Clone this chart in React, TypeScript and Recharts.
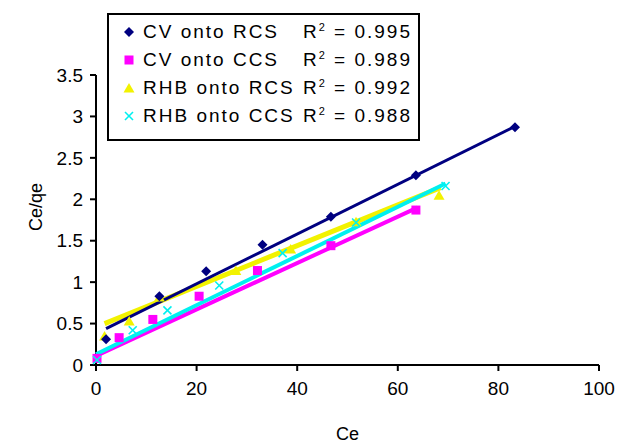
import React from 'react';
import { ScatterChart, Scatter, XAxis, YAxis } from 'recharts';

const xTicks = [0, 20, 40, 60, 80, 100];
const yTicks = [0, 0.5, 1, 1.5, 2, 2.5, 3, 3.5];

const seriesNames = ['CV onto RCS', 'CV onto CCS', 'RHB onto RCS', 'RHB onto CCS'];
const r2Values = ['0.995', '0.989', '0.992', '0.988'];
const seriesColors = ['#000080', '#FF00FF', '#F2F200', '#00F0F0'];

const cvRcs = [
  { x: 2.0, y: 0.31 }, { x: 12.6, y: 0.83 }, { x: 21.9, y: 1.13 }, { x: 33.1, y: 1.45 },
  { x: 46.7, y: 1.79 }, { x: 63.6, y: 2.29 }, { x: 83.3, y: 2.87 },
];
const cvCcs = [
  { x: 0.2, y: 0.08 }, { x: 4.6, y: 0.33 }, { x: 11.3, y: 0.55 }, { x: 20.5, y: 0.83 },
  { x: 32.1, y: 1.14 }, { x: 46.7, y: 1.44 }, { x: 63.6, y: 1.87 },
];
const rhbRcs = [
  { x: 1.7, y: 0.35 }, { x: 6.6, y: 0.53 }, { x: 12.6, y: 0.82 }, { x: 27.8, y: 1.14 },
  { x: 38.7, y: 1.4 }, { x: 51.7, y: 1.73 }, { x: 68.2, y: 2.05 },
];
const rhbCcs = [
  { x: 0.2, y: 0.06 }, { x: 7.3, y: 0.42 }, { x: 14.2, y: 0.66 }, { x: 24.5, y: 0.96 },
  { x: 37.1, y: 1.35 }, { x: 51.7, y: 1.72 }, { x: 69.5, y: 2.16 },
];

const trendCvRcs = [{ x: 2.0, y: 0.44 }, { x: 83.3, y: 2.88 }];
const trendCvCcs = [{ x: 0.0, y: 0.11 }, { x: 63.9, y: 1.9 }];
const trendRhbRcs = [{ x: 1.7, y: 0.5 }, { x: 68.5, y: 2.14 }];
const trendRhbCcs = [{ x: 0.0, y: 0.13 }, { x: 69.5, y: 2.19 }];

const FONT = '"Liberation Sans", Arial, sans-serif';

const Diamond = (p: any) => {
  const { cx, cy } = p;
  const s = 5;
  return <polygon points={`${cx},${cy - s} ${cx + s},${cy} ${cx},${cy + s} ${cx - s},${cy}`} fill={seriesColors[0]} />;
};
const Square = (p: any) => {
  const { cx, cy } = p;
  return <rect x={cx - 4.5} y={cy - 4.5} width={9} height={9} fill={seriesColors[1]} />;
};
const Triangle = (p: any) => {
  const { cx, cy } = p;
  return <polygon points={`${cx},${cy - 5} ${cx + 5.5},${cy + 4.5} ${cx - 5.5},${cy + 4.5}`} fill={seriesColors[2]} />;
};
const Cross = (p: any) => {
  const { cx, cy } = p;
  const s = 4;
  return (
    <g stroke={seriesColors[3]} strokeWidth={1.6}>
      <line x1={cx - s} y1={cy - s} x2={cx + s} y2={cy + s} />
      <line x1={cx - s} y1={cy + s} x2={cx + s} y2={cy - s} />
    </g>
  );
};
const NoShape = () => <g />;

const markers = [Diamond, Square, Triangle, Cross];

const LegendMarker = ({ i }: { i: number }) => {
  const M = markers[i];
  return (
    <svg width={14} height={14} style={{ position: 'absolute', left: 13, top: -7 }}>
      <M cx={7} cy={7} />
    </svg>
  );
};

export default function App() {
  return (
    <div style={{ position: 'absolute', left: 0, top: 0, width: 621, height: 443, background: '#fff' }}>
      <ScatterChart width={621} height={443} margin={{ top: 75, right: 22, bottom: 0, left: 0 }}>
        <XAxis
          type="number"
          dataKey="x"
          domain={[0, 100]}
          ticks={xTicks}
          interval={0}
          height={78}
          tickSize={6}
          tickMargin={11}
          stroke="#000"
          strokeWidth={2}
          tick={{ fill: '#000', fontSize: 19, fontFamily: FONT }}
          label={{ value: 'Ce', position: 'insideBottom', offset: 3, fill: '#000', fontSize: 18, fontFamily: FONT }}
        />
        <YAxis
          type="number"
          dataKey="y"
          domain={[0, 3.5]}
          ticks={yTicks}
          interval={0}
          width={96}
          tickSize={6}
          tickMargin={7}
          stroke="#000"
          strokeWidth={2}
          tick={{ fill: '#000', fontSize: 19, fontFamily: FONT }}
          label={{
            content: () => (
              <text
                x={36}
                y={207}
                transform="rotate(-90 36 207)"
                textAnchor="middle"
                dominantBaseline="central"
                fill="#000"
                fontSize={18}
                fontFamily={FONT}
              >
                Ce/qe
              </text>
            ),
          }}
        />
        <Scatter data={trendRhbRcs} line={{ stroke: seriesColors[2], strokeWidth: 5 }} shape={NoShape} isAnimationActive={false} />
        <Scatter data={trendCvCcs} line={{ stroke: seriesColors[1], strokeWidth: 4 }} shape={NoShape} isAnimationActive={false} />
        <Scatter data={trendRhbCcs} line={{ stroke: seriesColors[3], strokeWidth: 4 }} shape={NoShape} isAnimationActive={false} />
        <Scatter data={trendCvRcs} line={{ stroke: seriesColors[0], strokeWidth: 3 }} shape={NoShape} isAnimationActive={false} />
        <Scatter data={rhbRcs} shape={Triangle} isAnimationActive={false} />
        <Scatter data={cvCcs} shape={Square} isAnimationActive={false} />
        <Scatter data={rhbCcs} shape={Cross} isAnimationActive={false} />
        <Scatter data={cvRcs} shape={Diamond} isAnimationActive={false} />
      </ScatterChart>
      <div
        style={{
          position: 'absolute',
          left: 107,
          top: 13,
          width: 313,
          height: 128,
          boxSizing: 'border-box',
          border: '2px solid #000',
          background: '#fff',
          fontFamily: FONT,
          fontSize: 19,
          color: '#000',
        }}
      >
        {seriesNames.map((name, i) => (
          <div key={name} style={{ position: 'absolute', left: 0, top: 17 + i * 28, width: '100%', height: 0 }}>
            <LegendMarker i={i} />
            <span
              style={{
                position: 'absolute',
                left: 34,
                top: -11,
                whiteSpace: 'pre',
                letterSpacing: 2,
                lineHeight: '22px',
              }}
            >
              {name}
            </span>
            <span
              style={{
                position: 'absolute',
                right: 6,
                top: -11,
                whiteSpace: 'pre',
                letterSpacing: 2,
                lineHeight: '22px',
              }}
            >
              R<sup style={{ fontSize: 11, verticalAlign: 'top', position: 'relative', top: -5 }}>2</sup> = {r2Values[i]}
            </span>
          </div>
        ))}
      </div>
    </div>
  );
}
